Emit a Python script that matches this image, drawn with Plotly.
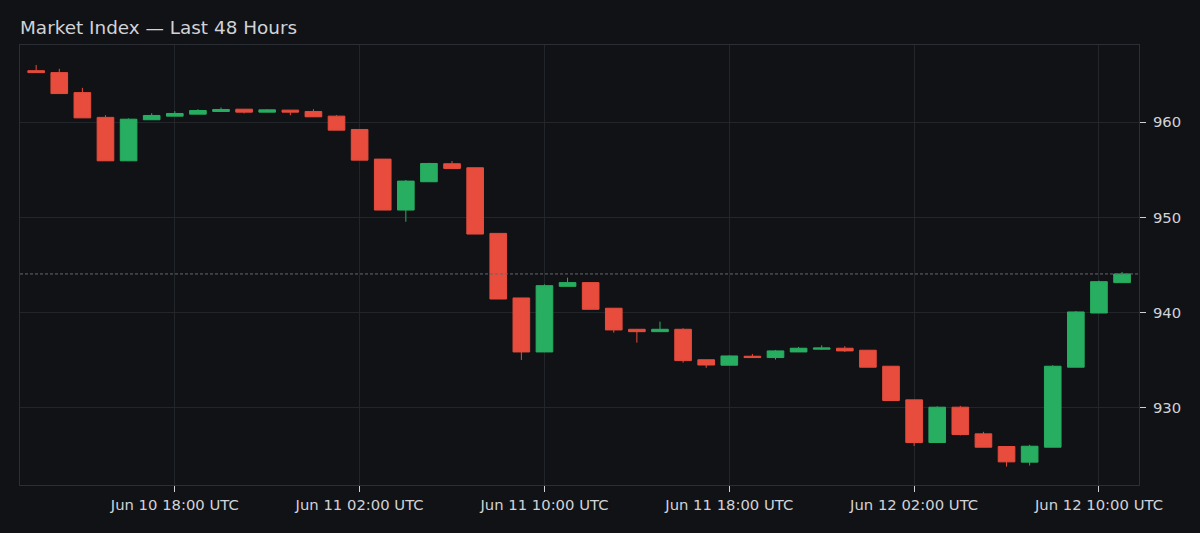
import plotly.graph_objects as go
import pandas as pd

# hourly candles, Jun 10 12:00 UTC -> Jun 12 11:00 UTC
times = pd.date_range("2024-06-10 12:00", periods=48, freq="h")

opens = [965.40, 965.20, 963.10, 960.50, 955.94, 960.25, 960.63, 960.84, 961.12, 961.36,
         961.05, 961.26, 961.12, 960.63, 959.23, 956.12, 950.77, 953.74, 955.63, 955.21,
         948.32, 941.54, 935.87, 942.76, 943.15, 940.46, 938.25, 938.00, 938.25, 935.05,
         934.48, 935.42, 935.28, 935.87, 936.16, 936.26, 936.05, 934.37, 930.84, 926.36,
         930.07, 927.27, 925.94, 924.30, 925.87, 934.27, 939.96, 943.15]
highs = [966.00, 965.60, 963.60, 960.73, 960.40, 960.94, 961.15, 961.36, 961.54, 961.36,
         961.36, 961.26, 961.36, 960.73, 959.23, 956.12, 953.92, 955.73, 955.91, 955.21,
         948.32, 941.54, 942.97, 943.67, 943.15, 940.46, 938.25, 939.05, 938.36, 935.05,
         935.52, 935.66, 936.08, 936.40, 936.57, 936.47, 936.05, 934.37, 930.84, 930.17,
         930.21, 927.48, 925.94, 926.12, 934.48, 940.17, 943.35, 944.27]
lows = [965.20, 963.00, 960.45, 955.94, 955.94, 960.25, 960.63, 960.84, 961.12, 960.91,
        961.05, 960.73, 960.56, 959.16, 956.01, 950.77, 949.54, 953.74, 955.14, 948.25,
        941.43, 935.03, 935.87, 942.76, 940.35, 937.90, 936.85, 938.00, 934.75, 934.20,
        934.48, 935.28, 935.07, 935.87, 936.08, 935.87, 934.27, 930.77, 926.00, 926.36,
        927.10, 925.87, 923.84, 923.95, 925.87, 934.27, 939.96, 943.15]
closes = [965.20, 963.00, 960.45, 955.94, 960.31, 960.70, 960.91, 961.22, 961.33, 961.05,
          961.29, 961.05, 960.56, 959.16, 956.01, 950.77, 953.81, 955.66, 955.14, 948.25,
          941.43, 935.87, 942.83, 943.15, 940.35, 938.18, 938.00, 938.25, 934.96, 934.50,
          935.45, 935.28, 935.98, 936.26, 936.29, 935.98, 934.27, 930.77, 926.36, 930.07,
          927.20, 925.87, 924.33, 925.97, 934.37, 940.07, 943.25, 944.06]

UP = "#27ae60"
DOWN = "#e74c3c"
BG = "#111216"
GRID = "#22252a"
TXT = "#d2d3d6"

fig = go.Figure(go.Candlestick(
    x=times, open=opens, high=highs, low=lows, close=closes,
    increasing=dict(line=dict(color=UP, width=1), fillcolor=UP),
    decreasing=dict(line=dict(color=DOWN, width=1), fillcolor=DOWN),
    showlegend=False,
))

# last close reference line
fig.add_shape(type="line", xref="paper", x0=0, x1=1, y0=closes[-1], y1=closes[-1],
              line=dict(color="#65686e", width=1, dash="3px,2px"))

fig.update_layout(
    width=1200, height=533,
    paper_bgcolor=BG, plot_bgcolor=BG,
    font=dict(family="DejaVu Sans", size=14.8, color=TXT),
    title=dict(text="Market Index — Last 48 Hours", x=20 / 1200, xanchor="left",
               y=1 - 28 / 533, yanchor="middle", font=dict(size=18.4, color=TXT)),
    margin=dict(l=20, r=61, t=45, b=48),
    boxgap=0.28, boxgroupgap=0,
    xaxis=dict(
        range=["2024-06-10 11:18", "2024-06-12 11:44"],
        rangeslider=dict(visible=False),
        tick0="2024-06-10 02:00", dtick=8 * 3600 * 1000,
        tickformat="%b %d %H:%M UTC",
        showgrid=True, gridcolor=GRID, zeroline=False,
        ticks="outside", ticklen=6, tickcolor="#cfd0d3",
        showline=True, linecolor="#2b2e34", mirror=True,
    ),
    yaxis=dict(
        side="right", range=[921.9, 968.1], dtick=10,
        showgrid=True, gridcolor=GRID, zeroline=False,
        ticks="outside", ticklen=6, tickcolor="#cfd0d3", ticklabelstandoff=4,
        showline=True, linecolor="#2b2e34", mirror=True,
    ),
)

fig.write_html("out.html", config={"displayModeBar": False},
               post_script="document.body.style.margin='0';")
